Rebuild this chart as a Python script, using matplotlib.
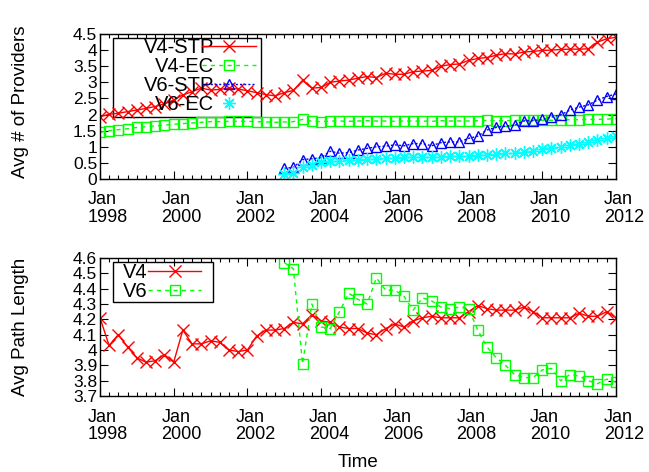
import numpy as np
import pandas as pd
import matplotlib
matplotlib.use('Agg')
import matplotlib.pyplot as plt
import matplotlib.dates as mdates
from matplotlib.patches import Rectangle
from matplotlib.transforms import ScaledTranslation

# quarterly samples, Jan 1998 .. Jan 2012; IPv6 series start in 2003
quarters = pd.date_range('1998-01-01', '2012-01-01', freq='QS')
v6_quarters = quarters[20:]

v4_stp = [1.93, 2.01, 2.04, 2.09, 2.14, 2.19, 2.25, 2.33, 2.45, 2.61, 2.71, 2.82,
          2.76, 2.78, 2.82, 2.79, 2.74, 2.68, 2.62, 2.58, 2.68, 2.75, 3.06, 2.82,
          2.84, 3.0, 3.04, 3.07, 3.13, 3.18, 3.15, 3.28, 3.25, 3.25, 3.33, 3.35,
          3.37, 3.5, 3.55, 3.57, 3.68, 3.74, 3.77, 3.84, 3.89, 3.88, 3.94, 3.96,
          3.99, 4.0, 4.02, 4.03, 4.03, 4.04, 4.25, 4.35, 4.4]
v4_ec = [1.45, 1.5, 1.53, 1.56, 1.6, 1.62, 1.65, 1.67, 1.7, 1.72, 1.74, 1.76,
         1.78, 1.78, 1.79, 1.79, 1.79, 1.78, 1.77, 1.76, 1.77, 1.78, 1.85, 1.79,
         1.78, 1.8, 1.8, 1.79, 1.8, 1.81, 1.8, 1.8, 1.79, 1.8, 1.8, 1.8,
         1.79, 1.81, 1.8, 1.8, 1.8, 1.81, 1.82, 1.81, 1.81, 1.82, 1.82, 1.83,
         1.82, 1.82, 1.83, 1.84, 1.84, 1.85, 1.85, 1.86, 1.87]
v6_stp = [0.33, 0.36, 0.6, 0.63, 0.66, 0.86, 0.8, 0.82, 0.9, 0.95, 1.0, 1.02,
          1.06, 1.03, 1.1, 1.1, 1.03, 1.13, 1.15, 1.15, 1.26, 1.33, 1.52, 1.6,
          1.64, 1.67, 1.8, 1.81, 1.85, 1.92, 1.99, 2.14, 2.23, 2.3, 2.45, 2.56, 2.64]
v6_ec = [0.16, 0.2, 0.36, 0.44, 0.52, 0.55, 0.57, 0.58, 0.6, 0.61, 0.63, 0.65,
         0.65, 0.67, 0.68, 0.67, 0.68, 0.68, 0.71, 0.71, 0.72, 0.76, 0.76, 0.78,
         0.81, 0.81, 0.83, 0.88, 0.92, 0.96, 1.0, 1.04, 1.09, 1.14, 1.2, 1.28, 1.33]

v4_path = [4.21, 4.03, 4.10, 4.02, 3.95, 3.92, 3.93, 3.97, 3.92, 4.13, 4.04, 4.04,
           4.06, 4.05, 4.0, 3.99, 4.0, 4.09, 4.13, 4.13, 4.14, 4.18, 4.17, 4.23,
           4.19, 4.18, 4.15, 4.14, 4.14, 4.11, 4.10, 4.14, 4.17, 4.15, 4.19, 4.21,
           4.22, 4.21, 4.21, 4.21, 4.25, 4.29, 4.27, 4.26, 4.26, 4.26, 4.28, 4.25,
           4.21, 4.21, 4.21, 4.21, 4.24, 4.22, 4.22, 4.25, 4.21]
v6_path = [4.57, 4.53, 3.91, 4.30, 4.15, 4.14, 4.25, 4.37, 4.33, 4.30, 4.47, 4.39,
           4.39, 4.35, 4.26, 4.34, 4.32, 4.28, 4.27, 4.28, 4.27, 4.13, 4.02, 3.95,
           3.90, 3.84, 3.82, 3.82, 3.87, 3.88, 3.80, 3.84, 3.83, 3.80, 3.78, 3.81, 3.79]

GREEN = '#00ff00'
plt.rcParams['font.family'] = ['Liberation Sans', 'DejaVu Sans']

fig = plt.figure(figsize=(6.49, 4.72), dpi=100)
ax1 = fig.add_axes([100/649, 1 - 179/472, 516/649, 145/472])
ax2 = fig.add_axes([100/649, 1 - 396/472, 516/649, 138/472])

ax1.plot(quarters, v4_stp, color='red', marker='x', ms=8, mew=1, lw=1, label='V4-STP')
ax1.plot(quarters, v4_ec, color=GREEN, marker='s', mfc='none', ms=7, mew=1, lw=1,
         ls=(0, (3, 3)), label='V4-EC')
ax1.plot(v6_quarters, v6_stp, color='blue', marker='^', mfc='none', ms=7, mew=1, lw=1,
         ls=(0, (1.5, 1.5)), label='V6-STP')
ax1.plot(v6_quarters, v6_ec, color='cyan', marker=(8, 2, 0), ms=9, mew=1, ls='none',
         label='V6-EC')

ax2.plot(quarters, v4_path, color='red', marker='x', ms=8, mew=1, lw=1, label='V4')
ax2.plot(v6_quarters, v6_path, color=GREEN, marker='s', mfc='none', ms=7, mew=1, lw=1,
         ls=(0, (3, 3)), label='V6')

ax1.set_ylim(0, 4.5)
ax1.set_yticks(np.arange(0, 4.51, 0.5))
ax2.set_ylim(3.7, 4.6)
ax2.set_yticks(np.round(np.arange(3.7, 4.61, 0.1), 1))

offset = ScaledTranslation(8/100, 0, fig.dpi_scale_trans)
for ax in (ax1, ax2):
    ax.set_xlim(quarters[0], quarters[-1])
    ax.xaxis.set_major_locator(mdates.YearLocator(2))
    ax.xaxis.set_minor_locator(mdates.MonthLocator(bymonth=[1, 4, 7, 10]))
    ax.xaxis.set_major_formatter(mdates.DateFormatter('%b\n%Y'))
    ax.yaxis.set_major_formatter(matplotlib.ticker.FormatStrFormatter('%g'))
    ax.tick_params(which='both', direction='in', top=True, right=True, labelsize=12.5)
    ax.tick_params(which='major', length=6, width=0.8)
    ax.tick_params(which='minor', length=3, width=0.8)
    ax.tick_params(axis='y', pad=2)
    ax.tick_params(axis='x', pad=9, labelsize=13)
    for lab in ax.get_xticklabels():
        lab.set_multialignment('left')
        lab.set_linespacing(1.05)
        lab.set_transform(lab.get_transform() + offset)
    for s in ax.spines.values():
        s.set_linewidth(1)

ax1.set_ylabel('Avg # of Providers', fontsize=13.5)
ax1.yaxis.set_label_coords(-0.137, 0.53)
ax2.set_ylabel('Avg Path Length', fontsize=13.5)
ax2.yaxis.set_label_coords(-0.137, 0.5)
ax2.set_xlabel('Time', fontsize=13.5)
ax2.xaxis.set_label_coords(0.5, -0.42)

ax1.legend(loc='upper left', bbox_to_anchor=(0.085, 0.975), markerfirst=False,
           frameon=False, fontsize=14.5, handlelength=2.65, handletextpad=-0.6,
           labelspacing=0.0, borderpad=0, borderaxespad=0, numpoints=1)
ax1.add_patch(Rectangle((0.0246, 0.4255), 0.2868, 0.549, transform=ax1.transAxes,
                        fill=False, ec='black', lw=1))
ax2.legend(loc='upper left', bbox_to_anchor=(0.045, 0.965), markerfirst=False,
           frameon=False, fontsize=14.5, handlelength=2.65, handletextpad=0,
           labelspacing=0.0, borderpad=0, borderaxespad=0, numpoints=1)
ax2.add_patch(Rectangle((0.0246, 0.6833), 0.195, 0.29, transform=ax2.transAxes,
                        fill=False, ec='black', lw=1))

fig.savefig('out.png', dpi=100)
